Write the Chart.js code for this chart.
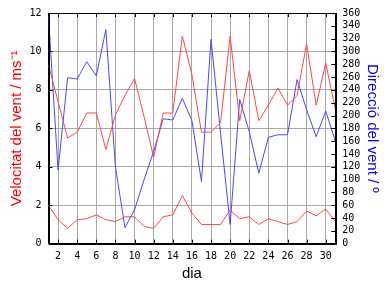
<!DOCTYPE html>
<html>
<head>
<meta charset="utf-8">
<script src="https://cdn.jsdelivr.net/npm/chart.js@4/dist/chart.umd.min.js"></script>
<style>
  html, body { margin: 0; padding: 0; background: #fff; }
  #wrap { width: 384px; height: 288px; }
</style>
</head>
<body>
<div id="wrap"><canvas id="_canvasc"></canvas></div>
<script>
	// ******************************************************** DATA

	var days = [1,2,3,4,5,6,7,8,9,10,11,12,13,14,15,16,17,18,19,20,21,22,23,24,25,26,27,28,29,30,31];
	var velMax = [9.3,7.4,5.5,5.8,6.8,6.8,4.9,6.7,7.7,8.6,6.6,4.5,6.8,6.8,10.8,8.8,5.8,5.8,6.3,10.8,6.4,9.0,6.4,7.2,8.1,7.2,7.7,10.4,7.2,9.4,7.0];
	var velMitja = [2.0,1.25,0.8,1.25,1.3,1.5,1.25,1.15,1.4,1.4,0.9,0.8,1.4,1.5,2.5,1.6,1.0,1.0,1.0,1.75,1.3,1.4,1.0,1.3,1.15,1.0,1.15,1.7,1.45,1.8,1.15];
	var direccio = [355,115,259,257,284,262,334,120,25,53,100,144,195,193,227,192,97,319,172,30,225,175,110,166,170,170,256,209,167,207,160];
	var xTicks = [2,4,6,8,10,12,14,16,18,20,22,24,26,28,30];

	function pts(arr) { return days.map(function (d, i) { return { x: d, y: arr[i] }; }); }

	var tickFont = { family: 'DejaVu Sans Mono', size: 10 };
	var titleFam = 'Liberation Sans';

	// frame and inward tick marks
	var framePlugin = {
		id: 'frame',
		afterDraw: function (chart) {
			var ctx = chart.ctx, a = chart.chartArea, s = chart.scales;
			ctx.save();
			ctx.strokeStyle = '#000';
			ctx.lineWidth = 1;
			ctx.strokeRect(Math.round(a.left) + 0.5, Math.round(a.top) + 0.5, Math.round(a.right - a.left), Math.round(a.bottom - a.top));
			ctx.beginPath();
			s.x.ticks.forEach(function (t) {
				var px = Math.round(s.x.getPixelForValue(t.value)) + 0.5;
				ctx.moveTo(px, a.bottom); ctx.lineTo(px, a.bottom - 4);
				ctx.moveTo(px, a.top); ctx.lineTo(px, a.top + 4);
			});
			s.y.ticks.forEach(function (t) {
				var py = Math.round(s.y.getPixelForValue(t.value)) + 0.5;
				ctx.moveTo(a.left, py); ctx.lineTo(a.left + 4, py);
			});
			s.y2.ticks.forEach(function (t) {
				var py = Math.round(s.y2.getPixelForValue(t.value)) + 0.5;
				ctx.moveTo(a.right, py); ctx.lineTo(a.right - 4, py);
			});
			ctx.stroke();
			ctx.restore();
		}
	};

	var config = {
		type: 'line',
		data: {
			datasets: [{
				label: 'Velocitat màxima',
				data: pts(velMax),
				borderColor: '#ff4848',
				yAxisID: 'y'
			}, {
				label: 'Velocitat mitjana',
				data: pts(velMitja),
				borderColor: '#ff4848',
				yAxisID: 'y'
			}, {
				label: 'Direcció',
				data: pts(direccio),
				borderColor: '#4848ff',
				yAxisID: 'y2'
			}]
		},
		options: {
			responsive: true,
			maintainAspectRatio: false,
			animation: false,
			layout: { padding: { top: 13, left: 0, right: 0, bottom: 0 } },
			elements: {
				line: { borderWidth: 1, tension: 0 },
				point: { radius: 0 }
			},
			plugins: {
				legend: { display: false },
				tooltip: { enabled: false }
			},
			scales: {
				x: {
					type: 'linear',
					min: 1,
					max: 31,
					afterBuildTicks: function (sc) { sc.ticks = xTicks.map(function (v) { return { value: v }; }); },
					afterFit: function (sc) { sc.height = 44.3; },
					grid: { color: '#a8a8a8', drawTicks: false },
					border: { color: '#000' },
					ticks: { font: tickFont, color: '#000', padding: 7, maxRotation: 0, autoSkip: false },
					title: { display: true, text: 'dia', color: '#000', font: { family: titleFam, size: 15 }, padding: { top: 0, bottom: 5 } }
				},
				y: {
					position: 'left',
					min: 0,
					max: 12,
					afterFit: function (sc) { sc.width = 48.5; },
					grid: { color: '#a8a8a8', drawTicks: false },
					border: { color: '#000' },
					ticks: { stepSize: 2, font: tickFont, color: '#000', padding: 7 },
					title: { display: true, text: 'Velocitat del vent / ms\u207B\u00B9', color: '#ff0000', font: { family: titleFam, size: 15 }, padding: { top: 8, bottom: 0 } }
				},
				y2: {
					position: 'right',
					min: 0,
					max: 360,
					afterFit: function (sc) { sc.width = 48.7; },
					grid: { drawOnChartArea: false, drawTicks: false },
					border: { color: '#000' },
					ticks: { stepSize: 20, autoSkip: false, font: tickFont, color: '#000', padding: 7 },
					title: { display: true, text: 'Direcció del vent / º', color: '#0000ff', font: { family: titleFam, size: 15 }, padding: { top: 3, bottom: 0 } }
				}
			}
		},
		plugins: [framePlugin]
	};

	// ******************************************************** CHART

	var _ctxc = document.getElementById("_canvasc").getContext("2d");
	window.myChart = new Chart(_ctxc, config);
</script>
</body>
</html>
